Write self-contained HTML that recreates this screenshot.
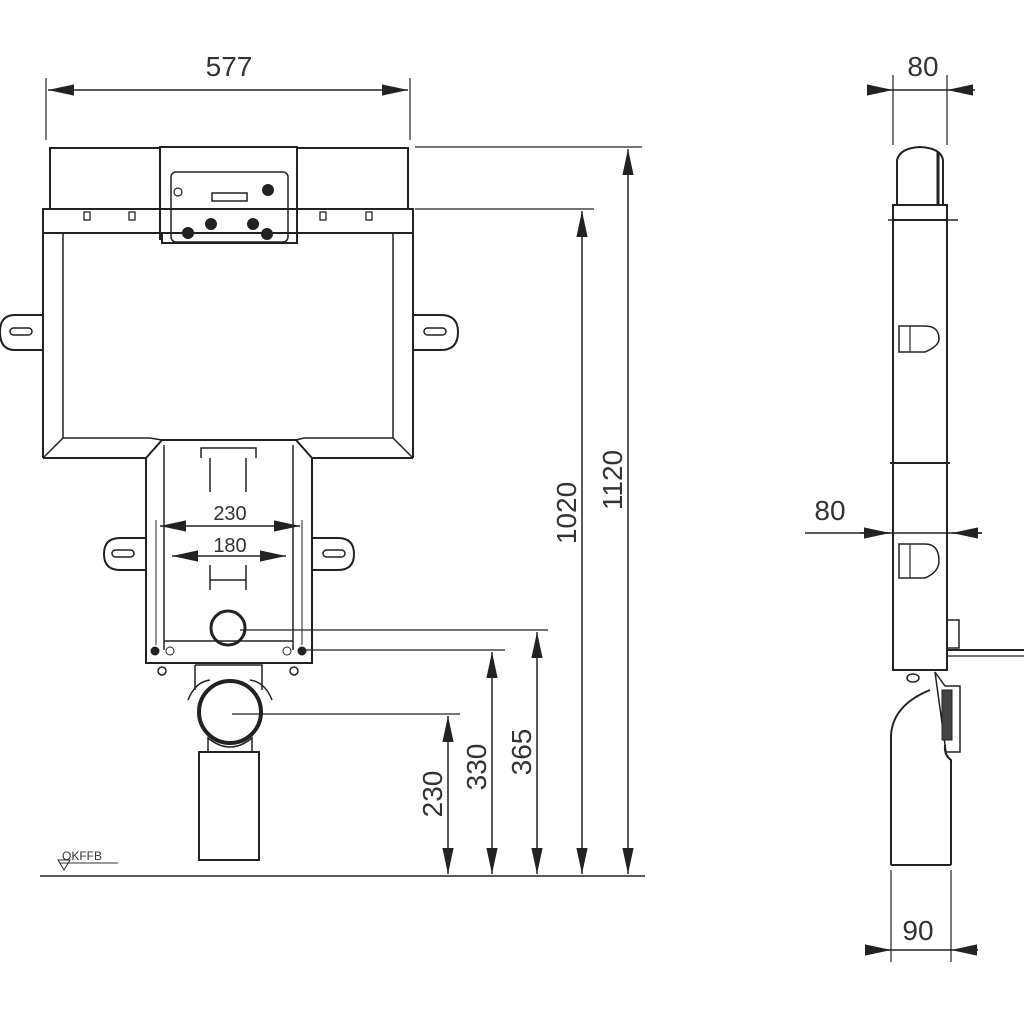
<!DOCTYPE html>
<html><head><style>body{margin:0;background:#fff}svg{display:block}text{font-family:"Liberation Sans",sans-serif;fill:#333}</style></head>
<body>
<svg width="1024" height="1024" viewBox="0 0 1024 1024" xmlns="http://www.w3.org/2000/svg">
<defs>
<marker id="b" viewBox="0 0 10 10" refX="10" refY="5" markerWidth="26" markerHeight="14" markerUnits="userSpaceOnUse" orient="auto-start-reverse" preserveAspectRatio="none"><path d="M0,1 L10,5 L0,9 z" fill="#222"/></marker>
</defs>
<g stroke="#222" fill="none" stroke-width="2">
<path d="M50,209 V148 H160 V147 H297 V148 H408 V209"/>
<line x1="160" y1="147" x2="160" y2="240"/><line x1="297" y1="147" x2="297" y2="240"/>
<rect x="43" y="209" width="370" height="24"/>
<path d="M162,233 V243 H297 V233"/>
<rect x="171" y="172" width="117" height="70" rx="5" stroke-width="1.5"/>
<rect x="212" y="193" width="35" height="8" stroke-width="1.5"/>
<circle cx="178" cy="192" r="4" stroke-width="1.2"/>
<circle cx="268" cy="190" r="5" fill="#222"/>
<circle cx="188" cy="233" r="5" fill="#222"/><circle cx="211" cy="224" r="5" fill="#222"/>
<circle cx="253" cy="224" r="5" fill="#222"/><circle cx="267" cy="234" r="5" fill="#222"/>
<g stroke-width="1.3"><rect x="84" y="212" width="6" height="8"/><rect x="129" y="212" width="6" height="8"/><rect x="320" y="212" width="6" height="8"/><rect x="366" y="212" width="6" height="8"/></g>
<line x1="43" y1="233" x2="43" y2="458"/><line x1="413" y1="233" x2="413" y2="458"/>
<line x1="63" y1="233" x2="63" y2="438" stroke-width="1.5"/><line x1="393" y1="233" x2="393" y2="438" stroke-width="1.5"/>
<path d="M43,458 H146 L162,440 H296 L312,458 H413"/>
<path d="M43,458 L63,438 H150 L162,440 M413,458 L393,438 H304 L296,440" stroke-width="1.5"/>
<path d="M43,315 H15 Q0,315 0,332 Q0,350 15,350 H43"/>
<rect x="10" y="328" width="22" height="7" rx="3.5" stroke-width="1.5"/>
<path d="M413,315 H441 Q458,315 458,332 Q458,350 441,350 H413"/>
<rect x="424" y="328" width="22" height="7" rx="3.5" stroke-width="1.5"/>
<path d="M146,458 V663 H312 V458"/>
<line x1="164" y1="445" x2="164" y2="650" stroke-width="1.5"/><line x1="293" y1="445" x2="293" y2="650" stroke-width="1.5"/>
<line x1="156" y1="520" x2="156" y2="645" stroke-width="1"/><line x1="302" y1="520" x2="302" y2="645" stroke-width="1"/>
<line x1="164" y1="641" x2="293" y2="641" stroke-width="1.5"/>
<path d="M201,458 V448 H256 V458" stroke-width="1.5"/><line x1="210" y1="458" x2="210" y2="492" stroke-width="1.5"/><line x1="246" y1="458" x2="246" y2="492" stroke-width="1.5"/>
<path d="M210,565 V590 M246,565 V590 M210,580 H246" stroke-width="1.5"/>
<circle cx="228" cy="628" r="17" stroke-width="3"/>
<path d="M146,538 H120 Q104,538 104,554 Q104,570 120,570 H146"/><rect x="112" y="550" width="22" height="7" rx="3.5" stroke-width="1.5"/>
<path d="M312,538 H338 Q354,538 354,554 Q354,570 338,570 H312"/><rect x="323" y="550" width="22" height="7" rx="3.5" stroke-width="1.5"/>
<g fill="#222" stroke-width="1"><circle cx="155" cy="651" r="4"/><circle cx="170" cy="651" r="4" fill="none"/><circle cx="287" cy="651" r="4" fill="none"/><circle cx="302" cy="651" r="4"/></g>
<circle cx="162" cy="671" r="4" stroke-width="1.5"/><circle cx="294" cy="671" r="4" stroke-width="1.5"/>
<path d="M195,665 H262 V690 M195,665 V690" stroke-width="1.5"/>
<circle cx="230" cy="712" r="31" stroke-width="4"/>
<path d="M188,700 Q195,682 210,680 M272,700 Q265,682 250,680" stroke-width="1.5"/>
<path d="M208,738 Q230,756 252,738 V752 H208 Z" stroke-width="1.5"/>
<rect x="199" y="752" width="60" height="108"/>
<line x1="40" y1="876" x2="645" y2="876" stroke-width="1.5"/>
<path d="M58,860 L64,870 L70,860 Z" stroke-width="1"/>
<g stroke-width="1.2">
<line x1="46" y1="78" x2="46" y2="140"/><line x1="410" y1="78" x2="410" y2="140"/>
<line x1="415" y1="147" x2="642" y2="147"/><line x1="415" y1="209" x2="594" y2="209"/>
<line x1="240" y1="630" x2="548" y2="630"/><line x1="305" y1="650" x2="505" y2="650"/>
<line x1="232" y1="714" x2="460" y2="714"/>
<line x1="893" y1="75" x2="893" y2="145"/><line x1="947" y1="75" x2="947" y2="145"/>
<line x1="891" y1="870" x2="891" y2="962"/><line x1="951" y1="870" x2="951" y2="962"/>
</g>
<g stroke-width="1.5">
<line x1="48" y1="90" x2="408" y2="90" marker-start="url(#b)" marker-end="url(#b)"/>
<line x1="628" y1="149" x2="628" y2="874" marker-start="url(#b)" marker-end="url(#b)"/>
<line x1="582" y1="211" x2="582" y2="874" marker-start="url(#b)" marker-end="url(#b)"/>
<line x1="537" y1="632" x2="537" y2="874" marker-start="url(#b)" marker-end="url(#b)"/>
<line x1="492" y1="652" x2="492" y2="874" marker-start="url(#b)" marker-end="url(#b)"/>
<line x1="448" y1="716" x2="448" y2="874" marker-start="url(#b)" marker-end="url(#b)"/>
<line x1="160" y1="526" x2="300" y2="526" marker-start="url(#b)" marker-end="url(#b)"/>
<line x1="172" y1="556" x2="286" y2="556" marker-start="url(#b)" marker-end="url(#b)"/>
<line x1="893" y1="90" x2="947" y2="90"/>
<line x1="868" y1="90" x2="893" y2="90" marker-end="url(#b)"/>
<line x1="975" y1="90" x2="947" y2="90" marker-end="url(#b)"/>
<line x1="805" y1="533" x2="982" y2="533"/>
<line x1="860" y1="533" x2="890" y2="533" marker-end="url(#b)"/>
<line x1="982" y1="533" x2="952" y2="533" marker-end="url(#b)"/>
<line x1="891" y1="950" x2="951" y2="950"/>
<line x1="865" y1="950" x2="891" y2="950" marker-end="url(#b)"/>
<line x1="978" y1="950" x2="951" y2="950" marker-end="url(#b)"/>
</g>
<path d="M897,205 V160 Q900,148 920,147 Q941,148 943,160 V205"/>
<line x1="938" y1="152" x2="938" y2="205" stroke-width="3"/>
<rect x="893" y="205" width="54" height="15"/>
<line x1="888" y1="220" x2="958" y2="220" stroke-width="1.5"/>
<path d="M893,220 V670 H947 V220"/>
<line x1="893" y1="352" x2="947" y2="352" stroke-width="0"/>
<path d="M899,326 V352 H925 Q939,346 939,339 Q939,326 925,326 Z" stroke-width="1.5"/>
<line x1="910" y1="326" x2="910" y2="352" stroke-width="1.2"/>
<line x1="890" y1="463" x2="950" y2="463" stroke-width="2"/>
<path d="M899,544 V578 H925 Q939,572 939,561 Q939,544 925,544 Z" stroke-width="1.5"/>
<line x1="910" y1="544" x2="910" y2="578" stroke-width="1.2"/>
<rect x="947" y="620" width="12" height="28" stroke-width="1.5"/>
<line x1="947" y1="650" x2="1024" y2="650"/>
<line x1="947" y1="656" x2="1024" y2="656" stroke-width="1.2"/>
<ellipse cx="913" cy="678" rx="6" ry="4" stroke-width="1.5"/>
<path d="M935,672 L945,686 H960 V752 H946 Z" stroke-width="1.5"/>
<rect x="942" y="690" width="10" height="50" fill="#444" stroke-width="1"/>
<path d="M891,865 V735 Q893,705 930,690 M951,865 V760 Q944,755 945,745" stroke-width="2"/>
<line x1="891" y1="865" x2="951" y2="865" stroke-width="2"/>
</g>
<g font-size="28" text-anchor="middle">
<text x="229" y="76">577</text>
<text x="923" y="76">80</text>
<text x="830" y="520">80</text>
<text x="918" y="940">90</text>
<text transform="translate(622,480) rotate(-90)">1120</text>
<text transform="translate(576,513) rotate(-90)">1020</text>
<text transform="translate(531,752) rotate(-90)">365</text>
<text transform="translate(486,767) rotate(-90)">330</text>
<text transform="translate(442,794) rotate(-90)">230</text>
</g>
<g font-size="20" text-anchor="middle">
<text x="230" y="520">230</text>
<text x="230" y="552">180</text>
</g>
<text x="62" y="860" font-size="12">OKFFB</text>
<line x1="60" y1="863" x2="118" y2="863" stroke="#333" stroke-width="1"/>
</svg>
</body></html>
